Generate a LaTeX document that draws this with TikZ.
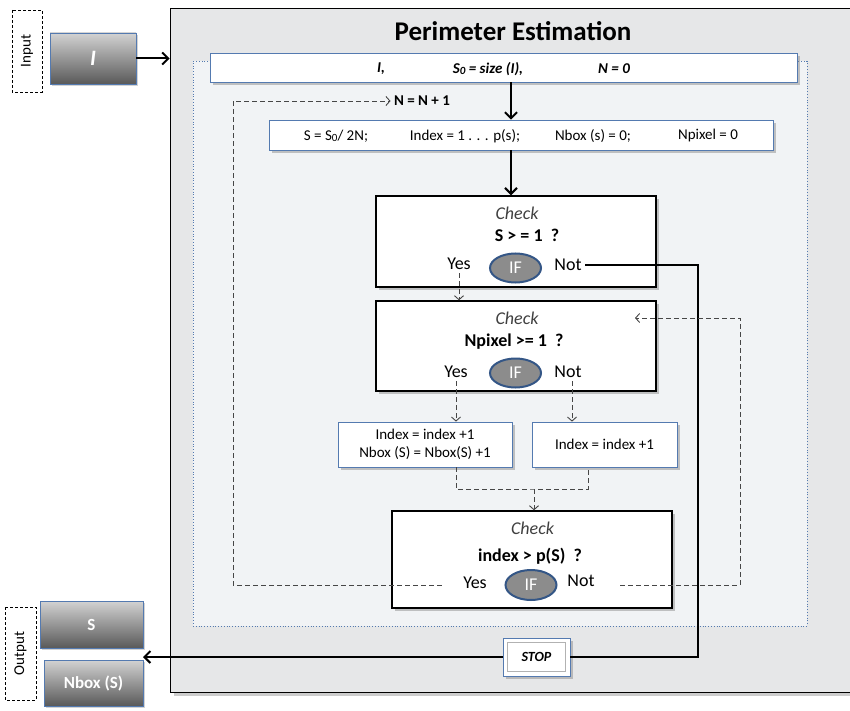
\documentclass[tikz,border=0pt]{standalone}
\usepackage{fontspec}
\setmainfont{Carlito}
\usetikzlibrary{positioning,shapes.geometric,shadows,arrows.meta}

\definecolor{frameblue}{RGB}{84,122,176}
\definecolor{ifrim}{RGB}{52,86,134}
\definecolor{panelgray}{RGB}{230,231,232}
\definecolor{zonegray}{RGB}{241,243,245}
\definecolor{dashgray}{RGB}{70,70,70}
\newcommand{\fsz}[1]{\fontsize{#1}{#1}\selectfont}

\begin{document}
\begin{tikzpicture}[x=1pt,y=-1pt,
  every node/.style={font=\fsz{15}},
  plainbox/.style={draw=frameblue, thick, fill=white, inner sep=0pt,
    drop shadow={shadow xshift=3pt, shadow yshift=-3pt, opacity=0.45}},
  checkbox/.style={draw=black, line width=1.4pt, fill=white, inner sep=0pt, minimum width=280pt,
    drop shadow={shadow xshift=3pt, shadow yshift=-3pt, opacity=0.45}},
  databox/.style={draw=frameblue, thick, top color=gray!35, bottom color=gray!70!black,
    text=white, font=\fsz{17}\bfseries, inner sep=0pt,
    drop shadow={shadow xshift=2pt, shadow yshift=-2pt, opacity=0.35}},
  ifnode/.style={ellipse, draw=ifrim, line width=2pt, fill=gray!90, text=white,
    minimum width=51pt, minimum height=29pt, inner sep=0pt, font=\fsz{18}},
  sidelabel/.style={draw, densely dashed, rotate=90, inner sep=0pt, font=\fsz{15}},
  checktitle/.style={font=\fsz{18}\itshape, text=black!75},
  condition/.style={font=\fsz{18}\bfseries},
  answer/.style={font=\fsz{18}},
  mainarrow/.style={-{Straight Barb[length=6pt,width=12pt]}, line width=2pt},
  backarrow/.style={dashgray, line width=0.9pt, dash pattern=on 5pt off 3pt, -{Straight Barb[length=4pt,width=9pt]}},
  backline/.style={dashgray, line width=0.9pt, dash pattern=on 5pt off 3pt}
]
\useasboundingbox (0,0) rectangle (850,711);

\node[draw=black, thick, fill=panelgray, minimum width=690pt, minimum height=684pt,
  drop shadow={shadow xshift=4pt, shadow yshift=-4pt, opacity=0.4}] (frame) at (515,350) {};
\node[font=\fsz{27}\bfseries] (title) at (513,31) {Perimeter Estimation};
\node[draw=frameblue, dotted, thick, fill=zonegray, minimum width=614pt, minimum height=565pt] (zone) at (500,343.5) {};

\node[sidelabel, minimum width=82pt, minimum height=30pt] (inlabel) at (27,51) {Input};
\node[databox, minimum width=86pt, minimum height=51pt, font=\fsz{22}\bfseries\itshape] (ibox) at (93,58.5) {I};
\node[sidelabel, minimum width=93pt, minimum height=31pt] (outlabel) at (20.5,653.5) {Output};
\node[databox, minimum width=103pt, minimum height=47pt] (sbox) at (91.5,624.5) {S};
\node[databox, minimum width=99pt, minimum height=46pt] (nbox) at (93.5,683) {Nbox (S)};

\node[plainbox, minimum width=587pt, minimum height=29pt] (init) at (503.5,67.5) {};
\node[font=\fsz{15}\bfseries\itshape] (ivar) at (381,69) {I,};
\node[font=\fsz{15}\bfseries\itshape] (svar) at (488,69) {S\raisebox{-1pt}{\fsz{11}0} = size (I),};
\node[font=\fsz{15}\bfseries\itshape] (nvar) at (614,69) {N = 0};

\node[font=\fsz{15}\bfseries] (nstep) at (422,101) {N = N + 1};

\node[plainbox, minimum width=504pt, minimum height=30pt] (setup) at (521,135) {};
\node (sset) at (336,136) {S = S\raisebox{-1pt}{\fsz{11}0}/ 2N;};
\node (iset) at (465,136) {Index = 1 . . . p(s);};
\node (nboxset) at (593,136) {Nbox (s) = 0;};
\node (npixset) at (708,136) {Npixel = 0};

\node[checkbox, minimum height=91pt] (check1) at (516,241.5) {};
\node[checktitle] (c1check) at (517,213) {Check};
\node[condition] (c1cond) at (527,235) {S > = 1 \ ?};
\node[answer] (c1yes) at (459,264) {Yes};
\node[ifnode] (c1if) at (515.5,268) {IF};
\node[answer] (c1not) at (568,265) {Not};

\node[checkbox, minimum height=90pt] (check2) at (516,346) {};
\node[checktitle] (c2check) at (517,318) {Check};
\node[condition] (c2cond) at (514,342) {Npixel >= 1 \ ?};
\node[answer] (c2yes) at (456,372) {Yes};
\node[ifnode] (c2if) at (515.5,373) {IF};
\node[answer] (c2not) at (568,372) {Not};

\node[plainbox, minimum width=174pt, minimum height=45pt, align=center] (boxl) at (425,444.5) {Index = index +1\\[3pt]Nbox (S) = Nbox(S) +1};
\node[plainbox, minimum width=145pt, minimum height=45pt] (boxr) at (604.5,444.5) {Index = index +1};

\node[checkbox, minimum height=97pt] (check3) at (532,559.5) {};
\node[checktitle] (c3check) at (532.5,528) {Check};
\node[condition] (c3cond) at (530,556) {index > p(S) \ ?};
\node[answer] (c3yes) at (475,583) {Yes};
\node[ifnode, minimum height=30pt] (c3if) at (531,585) {IF};
\node[answer] (c3not) at (581,581) {Not};

\node[plainbox, minimum width=67pt, minimum height=38pt] (stop) at (536.5,657) {};
\node[draw=gray!60, minimum width=58pt, minimum height=29pt, inner sep=0pt, font=\fsz{14}\bfseries\itshape] (stoptext) at (stop) {STOP};

\coordinate (spine) at (511,0);
\coordinate (exitx) at (698,0);
\coordinate (leftback) at (233,0);
\coordinate (rightback) at (740,0);
\coordinate (join) at (534,489);
\coordinate (rjoin) at (588,0);
\coordinate (c2entry) at (635,318);
\coordinate (outpoint) at (143,657);

\draw[mainarrow] (ibox.east) -- (ibox.east -| frame.west);
\draw[mainarrow] (init.south -| spine) -- (setup.north -| spine);
\draw[mainarrow] (setup.south -| spine) -- (check1.north -| spine);
\draw[line width=1.6pt] (c1not.east) -- (c1not.east -| exitx) -- (stop.east -| exitx) -- (stop.east);
\draw[mainarrow] (stop.west) -- (outpoint);

\draw[backarrow] (c1yes.south) -- (c1yes.south |- check2.north);
\draw[backarrow] (c2yes.south) -- (c2yes.south |- boxl.north);
\draw[backarrow] (c2not.south -| 572,0) -- (boxr.north -| 572,0);
\draw[backline] (boxl.south -| c2yes) |- (join) -| (boxr.south -| rjoin);
\draw[backarrow] (join) -- (join |- check3.north);
\draw[backarrow] ([xshift=-18pt]c3yes.west |- c3if) -- (leftback |- c3if) -- (leftback |- nstep) -- (nstep.west);
\draw[backarrow] ([xshift=22pt]c3not.east |- c3if) -- (rightback |- c3if) -- (rightback |- c2entry) -- (c2entry);
\end{tikzpicture}
\end{document}
